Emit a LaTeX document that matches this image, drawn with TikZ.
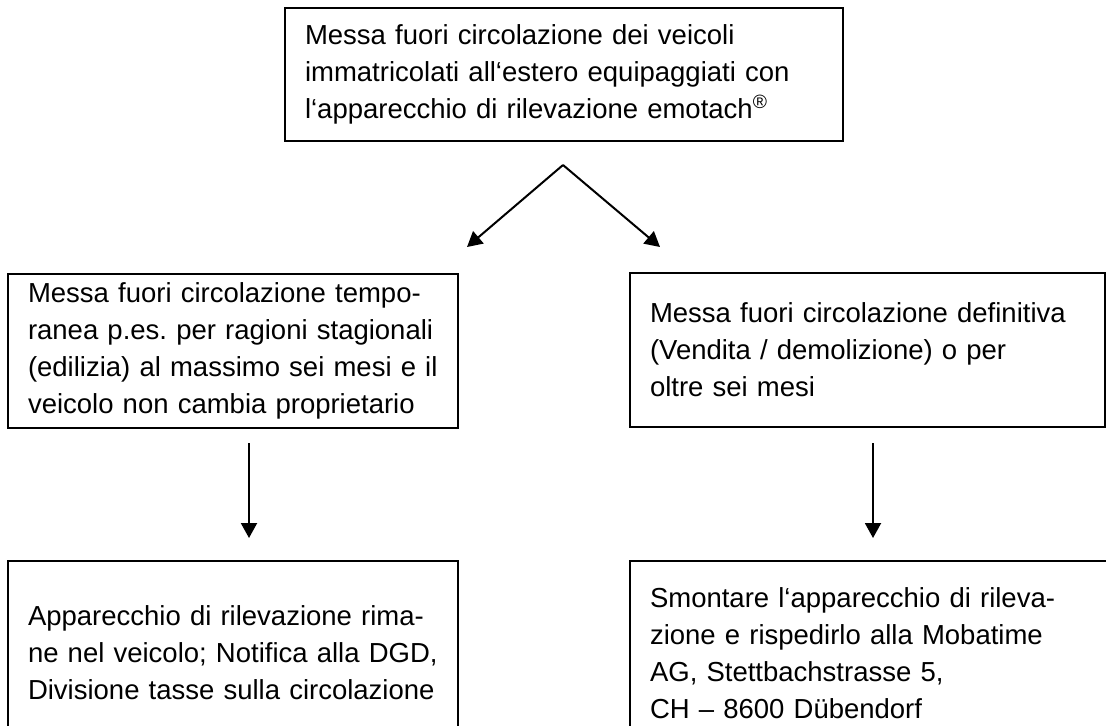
\documentclass[tikz,border=0pt]{standalone}
\usepackage{fontspec}
\setmainfont{Liberation Sans}
\usetikzlibrary{arrows.meta}
\frenchspacing

\begin{document}
\begin{tikzpicture}[x=0.5pt, y=-0.5pt, line width=1pt,
  box/.style={draw, anchor=north west, inner xsep=10pt, align=left,
    font=\fontsize{13.75pt}{18.5pt}\selectfont},
  pfeil/.style={-{Triangle[length=7.5pt,width=8pt]}}]
\useasboundingbox (0,0) rectangle (1106,725);
\clip (0,0) rectangle (1106,725);

\node[box, text width=259pt, minimum height=66.5pt] (top) at (284,7)
  {Messa fuori circolazione dei veicoli\\
   immatricolati all‘estero equipaggiati con\\
   l‘apparecchio di rilevazione emotach\textsuperscript{\textregistered}};

\node[box, text width=205pt, minimum height=77pt] (temp) at (7,273)
  {Messa fuori circolazione tempo-\\
   ranea p.es. per ragioni stagionali\\
   (edilizia) al massimo sei mesi e il\\
   veicolo non cambia proprietario};
\node[box, text width=217.5pt, minimum height=77pt] (defin) at (629,272)
  {Messa fuori circolazione definitiva\\
   (Vendita / demolizione) o per\\
   oltre sei mesi};

\node[box, text width=205pt, minimum height=92pt] (keep) at (7,560)
  {Apparecchio di rilevazione rima-\\
   ne nel veicolo; Notifica alla DGD,\\
   Divisione tasse sulla circolazione};
\node[box, text width=235pt, minimum height=92pt] (ship) at (629,560)
  {Smontare l‘apparecchio di rileva-\\
   zione e rispedirlo alla Mobatime\\
   AG, Stettbachstrasse 5,\\
   CH – 8600 Dübendorf};

\coordinate (split) at (563,165);
\coordinate (tipL) at (467,247);
\coordinate (tipR) at (660,247);
\draw[pfeil] (split) -- (tipL);
\draw[pfeil] (split) -- (tipR);

\coordinate (l1) at (249,443);
\coordinate (l2) at (249,538);
\coordinate (r1) at (873,443);
\coordinate (r2) at (873,538);
\draw[pfeil] (l1) -- (l2);
\draw[pfeil] (r1) -- (r2);

\end{tikzpicture}
\end{document}
